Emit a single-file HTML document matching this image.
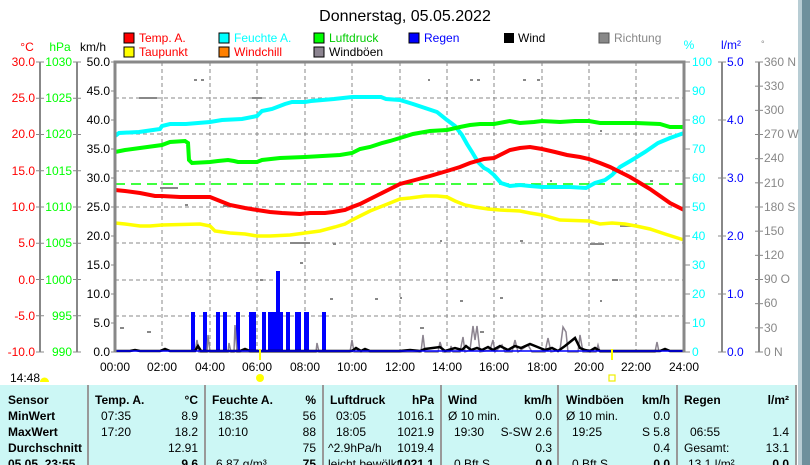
<!DOCTYPE html>
<html><head><meta charset="utf-8"><style>
body{margin:0;width:810px;height:465px;overflow:hidden;background:#fff;font-family:"Liberation Sans",sans-serif}
svg{position:absolute;left:0;top:0}
text{font-family:"Liberation Sans",sans-serif;font-size:12px}
.b{font-weight:bold}
</style></head><body>
<svg width="810" height="465" viewBox="0 0 810 465">
<rect x="802" y="0" width="8" height="465" fill="#6e909c"/>
<rect x="798" y="0" width="4" height="465" fill="#b8cdd4"/>
<text x="405" y="21" font-size="16" text-anchor="middle" style="font-size:16px">Donnerstag, 05.05.2022</text>
<g style="font-size:12px">
<rect x="124" y="33" width="10" height="10" fill="#f00" stroke="#000"/><text x="139" y="42" fill="#f00">Temp. A.</text>
<rect x="124" y="47" width="10" height="10" fill="#ff0" stroke="#000"/><text x="139" y="56" fill="#f00">Taupunkt</text>
<rect x="219" y="33" width="10" height="10" fill="#0ff" stroke="#000"/><text x="234" y="42" fill="#0ff">Feuchte A.</text>
<rect x="219" y="47" width="10" height="10" fill="#ff8000" stroke="#000"/><text x="234" y="56" fill="#f00">Windchill</text>
<rect x="314" y="33" width="10" height="10" fill="#0f0" stroke="#000"/><text x="329" y="42" fill="#0c0">Luftdruck</text>
<rect x="314" y="47" width="10" height="10" fill="#8c8490" stroke="#000"/><text x="329" y="56">Windböen</text>
<rect x="409" y="33" width="10" height="10" fill="#00f" stroke="#000"/><text x="424" y="42" fill="#00f">Regen</text>
<rect x="504" y="33" width="10" height="10" fill="#000"/><text x="518" y="42">Wind</text>
<rect x="599" y="33" width="10" height="10" fill="#888" stroke="#555"/><text x="614" y="42" fill="#888">Richtung</text>
</g>
<text x="27" y="51" fill="#f00" text-anchor="middle">°C</text>
<text x="60" y="51" fill="#0f0" text-anchor="middle">hPa</text>
<text x="93" y="51" text-anchor="middle">km/h</text>
<text x="689" y="49" fill="#0ff" text-anchor="middle">%</text>
<text x="731" y="49" fill="#00f" text-anchor="middle">l/m²</text>
<text x="761" y="47" fill="#888" style="font-size:9px">°</text>
<g stroke="#888" stroke-width="2">
<line x1="40" y1="62" x2="40" y2="352"/><line x1="77" y1="62" x2="77" y2="352"/>
<line x1="722" y1="62" x2="722" y2="352"/><line x1="759" y1="62" x2="759" y2="352"/>
</g>
<g id="lt" stroke="#888" stroke-width="1"></g>
<g fill="#f00" text-anchor="end">
<text x="35" y="66">30.0</text><text x="35" y="102">25.0</text><text x="35" y="138">20.0</text><text x="35" y="175">15.0</text><text x="35" y="211">10.0</text><text x="35" y="247">5.0</text><text x="35" y="284">0.0</text><text x="35" y="320">-5.0</text><text x="35" y="356">-10.0</text>
</g>
<g fill="#0f0" text-anchor="end">
<text x="72" y="66">1030</text><text x="72" y="102">1025</text><text x="72" y="138">1020</text><text x="72" y="175">1015</text><text x="72" y="211">1010</text><text x="72" y="247">1005</text><text x="72" y="284">1000</text><text x="72" y="320">995</text><text x="72" y="356">990</text>
</g>
<g text-anchor="end">
<text x="110" y="66">50.0</text><text x="110" y="95">45.0</text><text x="110" y="124">40.0</text><text x="110" y="153">35.0</text><text x="110" y="182">30.0</text><text x="110" y="211">25.0</text><text x="110" y="240">20.0</text><text x="110" y="269">15.0</text><text x="110" y="298">10.0</text><text x="110" y="327">5.0</text><text x="110" y="356">0.0</text>
</g>
<g fill="#0ff">
<text x="692" y="66">100</text><text x="692" y="95">90</text><text x="692" y="124">80</text><text x="692" y="153">70</text><text x="692" y="182">60</text><text x="692" y="211">50</text><text x="692" y="240">40</text><text x="692" y="269">30</text><text x="692" y="298">20</text><text x="692" y="327">10</text><text x="692" y="356">0</text>
</g>
<g fill="#00f">
<text x="727" y="66">5.0</text><text x="727" y="124">4.0</text><text x="727" y="182">3.0</text><text x="727" y="240">2.0</text><text x="727" y="298">1.0</text><text x="727" y="356">0.0</text>
</g>
<g fill="#888">
<text x="764" y="66">360 N</text><text x="764" y="90">330</text><text x="764" y="114">300</text><text x="764" y="138">270 W</text><text x="764" y="162">240</text><text x="764" y="187">210</text><text x="764" y="211">180 S</text><text x="764" y="235">150</text><text x="764" y="259">120</text><text x="764" y="283">90  O</text><text x="764" y="307">60</text><text x="764" y="332">30</text><text x="764" y="356">0   N</text>
</g>
<g stroke="#888" stroke-dasharray="4,3" stroke-width="1">
<line x1="162" y1="62" x2="162" y2="352"/><line x1="210" y1="62" x2="210" y2="352"/><line x1="257" y1="62" x2="257" y2="352"/><line x1="305" y1="62" x2="305" y2="352"/><line x1="352" y1="62" x2="352" y2="352"/><line x1="400" y1="62" x2="400" y2="352"/><line x1="447" y1="62" x2="447" y2="352"/><line x1="494" y1="62" x2="494" y2="352"/><line x1="542" y1="62" x2="542" y2="352"/><line x1="589" y1="62" x2="589" y2="352"/><line x1="636" y1="62" x2="636" y2="352"/>
<line x1="115" y1="98" x2="684" y2="98"/><line x1="115" y1="134" x2="684" y2="134"/><line x1="115" y1="171" x2="684" y2="171"/><line x1="115" y1="207" x2="684" y2="207"/><line x1="115" y1="243" x2="684" y2="243"/><line x1="115" y1="280" x2="684" y2="280"/><line x1="115" y1="316" x2="684" y2="316"/>
</g>
<g fill="#888">
<rect x="194" y="79" width="3" height="2"/><rect x="201" y="79" width="3" height="2"/><rect x="139" y="97" width="18" height="2"/><rect x="252" y="97" width="10" height="2"/><rect x="428" y="79" width="2" height="2"/><rect x="470" y="79" width="3" height="2"/><rect x="477" y="79" width="3" height="2"/><rect x="523" y="79" width="3" height="2"/><rect x="537" y="79" width="3" height="2"/>
<rect x="160" y="187" width="18" height="2"/><rect x="185" y="204" width="3" height="2"/><rect x="223" y="205" width="12" height="2"/><rect x="290" y="242" width="20" height="2"/><rect x="333" y="243" width="3" height="2"/><rect x="590" y="243" width="14" height="2"/><rect x="620" y="225" width="20" height="2"/><rect x="612" y="279" width="6" height="2"/><rect x="400" y="297" width="2" height="2"/><rect x="460" y="300" width="3" height="2"/><rect x="500" y="297" width="3" height="2"/><rect x="520" y="240" width="3" height="2"/><rect x="147" y="331" width="4" height="2"/><rect x="120" y="327" width="4" height="2"/><rect x="420" y="327" width="4" height="2"/><rect x="480" y="331" width="4" height="2"/><rect x="600" y="300" width="2" height="2"/><rect x="440" y="240" width="2" height="2"/><rect x="550" y="180" width="2" height="2"/><rect x="600" y="130" width="2" height="2"/><rect x="650" y="180" width="3" height="2"/><rect x="330" y="298" width="3" height="2"/><rect x="375" y="298" width="3" height="2"/><rect x="260" y="279" width="3" height="2"/><rect x="300" y="262" width="3" height="2"/>
</g>
<g fill="#00f">
<rect x="191" y="312" width="4" height="40"/><rect x="203" y="312" width="4" height="40"/><rect x="216" y="312" width="4" height="40"/><rect x="223" y="312" width="4" height="40"/><rect x="236" y="312" width="4" height="40"/><rect x="249" y="312" width="7" height="40"/><rect x="262" y="312" width="4" height="40"/><rect x="268" y="312" width="15" height="40"/><rect x="276" y="271" width="4" height="81"/><rect x="286" y="312" width="4" height="40"/><rect x="295" y="312" width="6" height="40"/><rect x="304" y="312" width="5" height="40"/><rect x="322" y="312" width="4" height="40"/>
</g>
<polyline fill="none" stroke="#8c8490" stroke-width="1.5" points="195,352 197,340 199,352 207,352 208,335 210,352 228,352 229,343 231,352 234,352 235,325 237,352 316,352 317,343 319,352 350,352 352,340 354,352 421,352 423,335 425,352 438,352 440,342 443,352 450,352 451,346 453,352 460,352 463,337 465,352 470,350 473,326 475,340 477,326 480,352 490,350 493,340 495,352 502,345 505,352 512,352 515,340 518,352 528,345 532,352 545,352 548,338 551,352 560,350 563,327 566,332 568,352 578,352 580,335 583,352 596,352 598,345 600,352 655,352 657,342 659,352"/>
<polyline fill="none" stroke="#000" stroke-width="2.5" points="115,351 130,351 135,350 140,351 160,351 165,349 170,351 195,351 198,346 201,351 240,351 245,349 250,351 352,351 356,348 361,351 365,349 370,351 400,351 410,350 420,351 425,349 440,347 445,351 455,348 462,350 466,346 471,350 477,348 482,350 488,347 493,350 500,346 508,350 515,346 521,348 530,344 540,348 545,350 552,348 558,351 565,346 575,338 580,348 585,350 590,351 595,348 600,351 660,351 665,349 670,351 684,351"/>
<line x1="115" y1="351" x2="684" y2="351" stroke="#00f" stroke-width="1.5"/>
<line x1="115" y1="184" x2="684" y2="184" stroke="#0f0" stroke-width="1.5" stroke-dasharray="10,6"/>
<polyline fill="none" stroke="#0ff" stroke-width="4" points="115,136 119,133 139,132 160,129 162,126 170,124 186,124 210,122 222,120 242,119 257,116 262,111 272,109 285,104 292,102 305,102 311,101 334,99 352,97 359,97 381,97 386,99 400,100 413,104 425,108 437,112 447,120 455,126 462,135 467,144 472,152 478,162 484,168 488,170 494,175 501,183 510,186 520,185 530,186 542,187 555,187 570,187 586,188 595,183 605,180 612,175 620,167 632,160 645,152 658,143 670,138 684,133"/>
<polyline fill="none" stroke="#0f0" stroke-width="4" points="115,152 125,150 140,148 162,145 170,142 185,141 188,143 189,160 192,163 210,162 218,161 228,160 234,161 238,162 257,162 262,160 280,158 305,157 340,155 352,153 360,149 370,147 382,143 390,141 400,138 413,134 430,131 447,130 460,127 470,125 480,124 494,124 510,121 520,123 534,122 542,121 560,122 575,121 589,121 600,123 620,123 636,123 660,124 670,127 684,127"/>
<polyline fill="none" stroke="#ff0" stroke-width="3.5" points="115,223 125,224 140,226 150,226 162,225 200,224 210,226 215,231 230,233 245,234 257,236 270,236 290,235 305,233 320,231 335,227 345,224 352,220 360,216 370,211 380,207 390,203 400,199 410,198 425,196 437,196 447,197 455,201 465,205 475,207 488,209 500,210 520,211 530,213 542,215 560,220 589,221 600,224 612,223 625,224 636,226 650,229 665,234 684,240"/>
<polyline fill="none" stroke="#f00" stroke-width="4" points="115,190 125,191 140,193 155,196 162,196 180,197 200,197 210,197 220,201 230,205 245,208 257,210 270,212 282,213 300,214 310,213 325,213 333,212 345,210 352,207 360,204 370,199 380,194 390,189 400,184 415,180 430,176 447,171 460,167 470,163 484,159 494,158 500,155 510,150 520,148 530,147 542,149 555,152 567,155 580,157 589,159 600,163 610,167 620,172 630,177 640,183 650,189 660,196 670,203 684,210"/>
<path d="M115,352 V62 H684 V352" fill="none" stroke="#888" stroke-width="3"/>
<g stroke="#888"><line x1="111" y1="62" x2="115" y2="62"/></g>
<g text-anchor="middle">
<text x="115" y="371">00:00</text><text x="162" y="371">02:00</text><text x="210" y="371">04:00</text><text x="257" y="371">06:00</text><text x="305" y="371">08:00</text><text x="352" y="371">10:00</text><text x="400" y="371">12:00</text><text x="447" y="371">14:00</text><text x="494" y="371">16:00</text><text x="542" y="371">18:00</text><text x="589" y="371">20:00</text><text x="636" y="371">22:00</text><text x="684" y="371">24:00</text>
</g>
<line x1="260" y1="349" x2="260" y2="360" stroke="#ff0" stroke-width="2"/>
<line x1="612" y1="349" x2="612" y2="360" stroke="#ff0" stroke-width="2"/>
<circle cx="260" cy="378" r="4" fill="#ff0"/>
<rect x="609" y="375" width="6" height="6" fill="none" stroke="#ee0" stroke-width="1.2"/>
<text x="10" y="382">14:48</text>
<path d="M40,382 a4,4 0 0 1 9,0 z" fill="#ff0"/>
<rect x="0" y="385" width="797" height="80" fill="#ccf7f5"/>
<g stroke="#999" stroke-width="2">
<line x1="88" y1="385" x2="88" y2="465"/><line x1="205" y1="385" x2="205" y2="465"/><line x1="323" y1="385" x2="323" y2="465"/><line x1="441" y1="385" x2="441" y2="465"/><line x1="558" y1="385" x2="558" y2="465"/><line x1="677" y1="385" x2="677" y2="465"/><line x1="796" y1="385" x2="796" y2="465"/>
</g>
<g font-weight="bold">
<text x="8" y="404" class="b">Sensor</text><text x="8" y="420" class="b">MinWert</text><text x="8" y="436" class="b">MaxWert</text><text x="8" y="452" class="b">Durchschnitt</text><text x="8" y="468" class="b">05.05. 23:55</text>
<text x="95" y="404" class="b">Temp. A.</text><text x="198" y="404" class="b" text-anchor="end">°C</text>
<text x="212" y="404" class="b">Feuchte A.</text><text x="316" y="404" class="b" text-anchor="end">%</text>
<text x="330" y="404" class="b">Luftdruck</text><text x="434" y="404" class="b" text-anchor="end">hPa</text>
<text x="448" y="404" class="b">Wind</text><text x="552" y="404" class="b" text-anchor="end">km/h</text>
<text x="566" y="404" class="b">Windböen</text><text x="670" y="404" class="b" text-anchor="end">km/h</text>
<text x="684" y="404" class="b">Regen</text><text x="789" y="404" class="b" text-anchor="end">l/m²</text>
</g>
<g>
<text x="101" y="420">07:35</text><text x="198" y="420" text-anchor="end">8.9</text>
<text x="101" y="436">17:20</text><text x="198" y="436" text-anchor="end">18.2</text>
<text x="198" y="452" text-anchor="end">12.91</text><text x="198" y="468" text-anchor="end" class="b">9.6</text>
<text x="218" y="420">18:35</text><text x="316" y="420" text-anchor="end">56</text>
<text x="218" y="436">10:10</text><text x="316" y="436" text-anchor="end">88</text>
<text x="316" y="452" text-anchor="end">75</text><text x="216" y="468">6.87 g/m³</text><text x="316" y="468" text-anchor="end" class="b">75</text>
<text x="336" y="420">03:05</text><text x="434" y="420" text-anchor="end">1016.1</text>
<text x="336" y="436">18:05</text><text x="434" y="436" text-anchor="end">1021.9</text>
<text x="328" y="452">^2.9hPa/h</text><text x="434" y="452" text-anchor="end">1019.4</text>
<text x="328" y="468">leicht bewölkt</text><text x="434" y="468" text-anchor="end" class="b">1021.1</text>
<text x="448" y="420">Ø 10 min.</text><text x="552" y="420" text-anchor="end">0.0</text>
<text x="454" y="436">19:30</text><text x="552" y="436" text-anchor="end">S-SW 2.6</text>
<text x="552" y="452" text-anchor="end">0.3</text><text x="454" y="468">0 Bft S</text><text x="552" y="468" text-anchor="end" class="b">0.0</text>
<text x="566" y="420">Ø 10 min.</text><text x="670" y="420" text-anchor="end">0.0</text>
<text x="572" y="436">19:25</text><text x="670" y="436" text-anchor="end">S 5.8</text>
<text x="670" y="452" text-anchor="end">0.4</text><text x="572" y="468">0 Bft S</text><text x="670" y="468" text-anchor="end" class="b">0.0</text>
<text x="690" y="436">06:55</text><text x="789" y="436" text-anchor="end">1.4</text>
<text x="684" y="452">Gesamt:</text><text x="789" y="452" text-anchor="end">13.1</text>
<text x="688" y="468">13.1 l/m²</text><text x="789" y="468" text-anchor="end" class="b">0.0</text>
</g>
</svg>
<script>
var g=document.getElementById('lt'),s='';
function L(x1,y1,x2,y2){s+='<line x1="'+x1+'" y1="'+y1+'" x2="'+x2+'" y2="'+y2+'"/>';}
for(var i=0;i<=8;i++){var y=62+i*36.25;L(36,y,44,y);L(73,y,81,y);}
for(i=0;i<=10;i++){y=62+i*29;L(111,y,115,y);L(684,y,690,y);}
for(i=0;i<=5;i++){y=62+i*58;L(718,y,726,y);}
for(i=0;i<=12;i++){y=62+i*290/12;L(755,y,763,y);}
g.innerHTML=s;
</script>
</body></html>
